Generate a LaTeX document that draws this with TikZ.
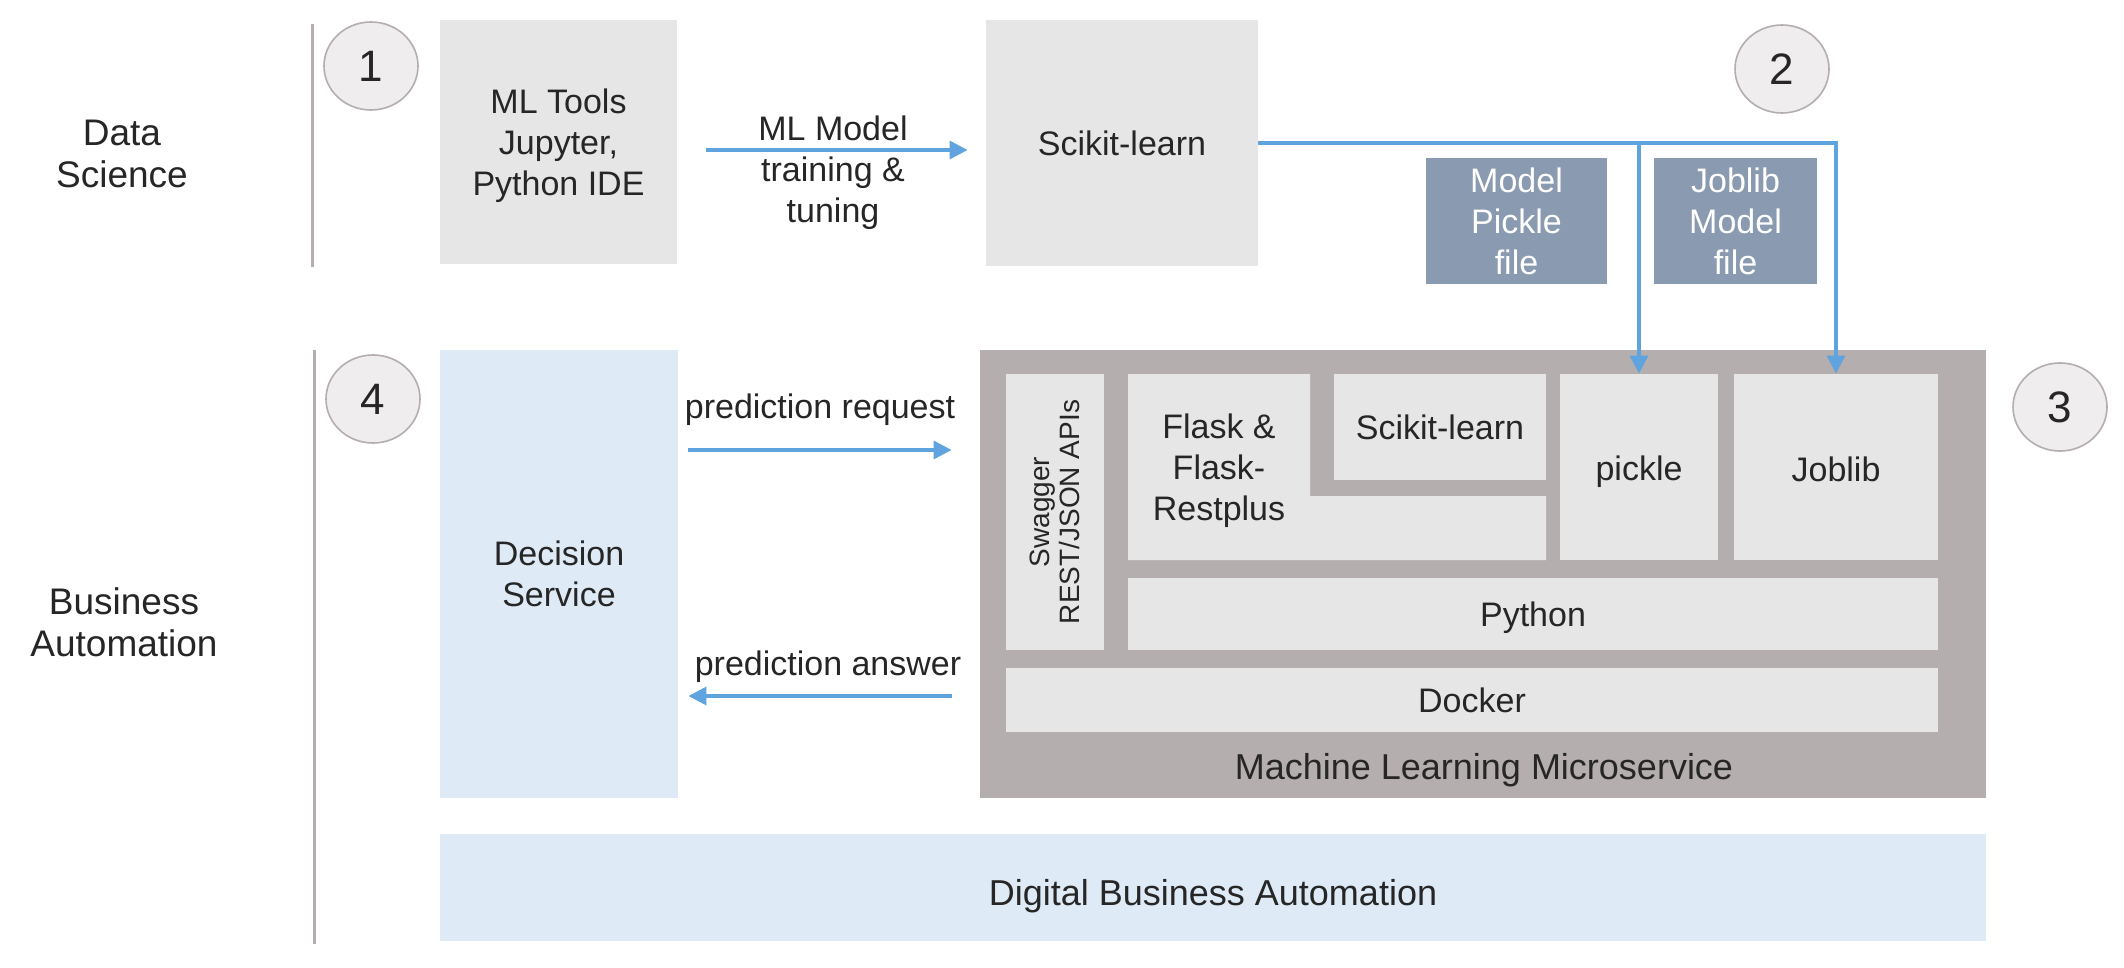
\documentclass[tikz,border=0pt]{standalone}
\usepackage{fontspec}
\setmainfont{Liberation Sans}
\usetikzlibrary{arrows.meta,calc,shapes.geometric}
\definecolor{txt}{HTML}{262626}
\definecolor{lgray}{HTML}{E6E6E6}
\definecolor{mgray}{HTML}{B5AEAE}
\definecolor{slate}{HTML}{8A9AB0}
\definecolor{lblue}{HTML}{DEEBF7}
\definecolor{arrblue}{HTML}{5FA3DF}
\definecolor{circfill}{HTML}{EFEDED}
\begin{document}
\begin{tikzpicture}[x=0.5pt,y=-0.5pt,
  box/.style={rectangle, inner sep=0pt, align=center, text=txt, font=\fontsize{17}{20.5}\selectfont},
  gbox/.style={box, fill=lgray},
  sbox/.style={box, fill=slate, text=white},
  bbox/.style={box, fill=lblue},
  msbox/.style={box, fill=mgray},
  num/.style={ellipse, inner sep=0pt, minimum width=47pt, minimum height=44pt, fill=circfill, draw=mgray, line width=0.8pt, text=txt, font=\fontsize{22}{24}\selectfont},
  lbl/.style={inner sep=0pt, align=center, text=txt, font=\fontsize{17}{20.5}\selectfont},
  side/.style={inner sep=0pt, align=center, text=txt, font=\fontsize{18.5}{21}\selectfont},
  big/.style={inner sep=0pt, align=center, text=txt, font=\fontsize{18}{21}\selectfont},
  flow/.style={draw=arrblue, line width=1.6pt, -{Triangle[width=9pt,length=9pt]}},
  sepline/.style={draw=mgray, line width=1.5pt}
]
\fill[white] (0,0) rectangle (2124,968);
\useasboundingbox (0,0) rectangle (2124,968);

% section separators
\coordinate (s1a) at (312,24);
\coordinate (s1b) at (312,267);
\coordinate (s2a) at (314,350);
\coordinate (s2b) at (314,944);
\draw[sepline] (s1a) -- (s1b);
\draw[sepline] (s2a) -- (s2b);

% side labels
\node[side] (ds) at (122,154) {Data\\Science};
\node[side] (ba) at (124,622) {Business\\Automation};

% step numbers
\node[num] (n1) at (371,66) {1};
\node[num] (n2) at (1782,69) {2};
\node[num] (n3) at (2060,407) {3};
\node[num] (n4) at (373,399) {4};

% top row
\node[gbox, minimum width=118.5pt, minimum height=122pt] (ml) at (558.5,142) {};
\node[lbl] (mlT) at (558.5,146) {ML Tools\\Jupyter,\\Python IDE};
\node[gbox, minimum width=136pt, minimum height=123pt] (sk) at (1122,143) {Scikit-learn};
\node[sbox, minimum width=90.5pt, minimum height=63pt] (mpf) at (1516.5,221) {Model\\Pickle\\file};
\node[sbox, minimum width=81.5pt, minimum height=63pt] (jmf) at (1735.5,221) {Joblib\\Model\\file};

% bottom area
\node[bbox, minimum width=119pt, minimum height=224pt] (dec) at (559,574) {Decision\\Service};
\node[bbox, minimum width=773pt, minimum height=53.5pt] (dba) at (1213,887.5) {};
\node[big] (dbaT) at (1213,896) {Digital Business Automation};

% microservice
\node[msbox, minimum width=503pt, minimum height=224pt] (mls) at (1483,574) {};
\node[gbox, minimum width=49pt, minimum height=138pt] (swag) at (1055,512) {};
\node[inner sep=0pt, align=center, text=txt, rotate=90, font=\fontsize{14}{15}\selectfont] (swagt) at (1055,512) {Swagger\\REST/JSON APIs};
\fill[lgray] (1128,374) -- (1310,374) -- (1310,496) -- (1546,496) -- (1546,560) -- (1128,560) -- cycle;
\node[lbl] (flask) at (1219,471) {Flask \&\\Flask-\\Restplus};
\node[gbox, minimum width=106pt, minimum height=53pt] (skin) at (1440,427) {Scikit-learn};
\node[gbox, minimum width=79pt, minimum height=93pt] (pickle) at (1639,467) {};
\node[lbl] (pickleT) at (1639,472) {pickle};
\node[gbox, minimum width=102pt, minimum height=93pt] (joblib) at (1836,467) {};
\node[lbl] (joblibT) at (1836,469) {Joblib};
\node[gbox, minimum width=405pt, minimum height=36pt] (python) at (1533,614) {};
\node[lbl] (pythonT) at (1533,618) {Python};
\node[gbox, minimum width=466pt, minimum height=32pt] (docker) at (1472,700) {Docker};
\node[big] (mlst) at (1484,770) {Machine Learning Microservice};

% connectors
\draw[flow] ([xshift=14.5pt,yshift=-4pt]ml.east) -- ([xshift=-9pt,yshift=-3.5pt]sk.west);
\node[lbl] (mlm) at (833,173) {ML Model\\training \&\\tuning};

\draw[flow] (sk.east) -| (joblib.north);
\draw[flow] (sk.east -| pickle.north) -- (pickle.north);

\draw[flow] ([xshift=5pt,yshift=62pt]dec.east) -- ([xshift=-14pt,yshift=62pt]mls.west);
\node[lbl] (preq) at (820,410) {prediction request};
\draw[flow] ([xshift=-14pt,yshift=-61pt]mls.west) -- ([xshift=5pt,yshift=-61pt]dec.east);
\node[lbl] (pans) at (828,667) {prediction answer};
\end{tikzpicture}
\end{document}
